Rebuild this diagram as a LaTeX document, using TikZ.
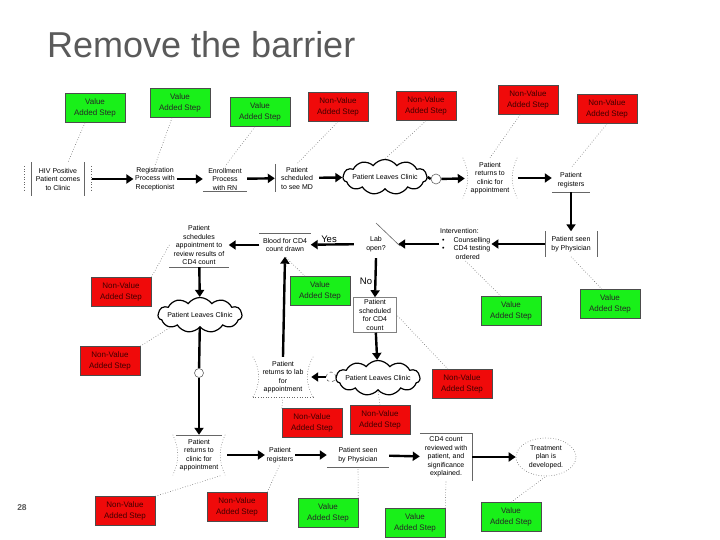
\documentclass[tikz,border=0pt]{standalone}
\usepackage{fontspec}
\setmainfont{Liberation Sans}
\usetikzlibrary{shapes.symbols,shapes.geometric,arrows.meta}
\definecolor{vgreen}{HTML}{19F019}
\definecolor{nvred}{HTML}{F00A0A}
\definecolor{titlegray}{HTML}{5A5A5A}
\begin{document}
\begin{tikzpicture}[x=1pt,y=-1pt,
  stepbox/.style={rectangle,minimum width=60pt,minimum height=29pt,inner sep=1pt,align=center,font=\fontsize{8}{10.5}\selectfont,draw=black!70,line width=0.5pt},
  vas/.style={stepbox,fill=vgreen,text=black!85},
  nvas/.style={stepbox,fill=nvred,text=black!75!red},
  flow/.style={align=center,font=\fontsize{7}{8.5}\selectfont,inner sep=1.5pt},
  arr/.style={line width=2.4pt,-{Triangle[length=7pt,width=9pt]}},
  plain/.style={line width=2.4pt},
  link/.style={dotted,line width=0.6pt,black!60},
  edge/.style={line width=0.6pt,black!60},
  cloudnode/.style={cloud,cloud puffs=11,cloud puff arc=110,cloud ignores aspect,draw,line width=1.2pt,fill=white,inner sep=0pt,minimum width=84pt,minimum height=35pt},
  cloudtext/.style={font=\fontsize{7}{8.5}\selectfont,inner sep=0pt},
  yn/.style={font=\fontsize{9.5}{11}\selectfont},
  smallc/.style={circle,minimum size=10pt,inner sep=0pt,draw=black!60,line width=0.6pt,fill=white}
]
\useasboundingbox (0,0) rectangle (720,540);

% title and page number
\node[anchor=west,font=\fontsize{36}{40}\selectfont,text=titlegray,inner sep=0pt] (title) at (47,45) {Remove the barrier};
\node[font=\bfseries\fontsize{8.5}{10}\selectfont,text=titlegray] (pnum) at (22,508) {28};

% top row of step boxes
\node[vas] (g1) at (95,108) {Value\\Added Step};
\node[vas] (g2) at (180,103) {Value\\Added Step};
\node[vas] (g3) at (260,112) {Value\\Added Step};
\node[nvas] (r1) at (338,107) {Non-Value\\Added Step};
\node[nvas] (r2) at (426,106) {Non-Value\\Added Step};
\node[nvas] (r3) at (528,100) {Non-Value\\Added Step};
\node[nvas] (r4) at (607,109) {Non-Value\\Added Step};

% second row of process
\node[flow,minimum width=53pt,minimum height=33pt] (hiv) at (58,179) {HIV Positive\\Patient comes\\to Clinic};
\draw[edge] (hiv.north west) -- (hiv.south west);
\draw[edge] (hiv.north east) -- (hiv.south east);
\draw[link] ([xshift=-7pt]hiv.north west) ++(0,4) -- ++(0,24);
\draw[link] ([xshift=7pt]hiv.north east) ++(0,4) -- ++(0,24);
\node[flow] (reg) at (155,179) {Registration\\Process with\\Receptionist};
\node[flow,minimum width=44pt] (enr) at (225,179) {Enrollment\\Process\\with RN};
\draw[edge] (enr.south west) -- (enr.south east);
\node[flow,minimum width=44pt,minimum height=28pt] (sched) at (297,178) {Patient\\scheduled\\to see MD};
\draw[edge] (sched.north west) -- (sched.south west);
\node[cloudnode] (cl1) at (385,177) {};
\node[cloudtext] (cl1t) at (cl1.center) {Patient Leaves Clinic};
\node[smallc] (c1) at (436,179) {};
\node[flow,minimum width=50pt,minimum height=40pt] (ret1) at (490,178) {Patient\\returns to\\clinic for\\appointment};
\draw[link] ([xshift=-2pt]ret1.north west) to[bend left=25] ([xshift=-2pt]ret1.south west);
\draw[link] ([xshift=2pt]ret1.north east) to[bend right=25] ([xshift=2pt]ret1.south east);
\node[flow,minimum width=38pt,minimum height=24pt] (preg) at (571,180) {Patient\\registers};
\draw[edge] (preg.south west) -- (preg.south east);

% third row
\node[flow,minimum width=52pt,minimum height=25pt] (phys) at (571,244) {Patient seen\\by Physician};
\draw[edge] (phys.north west) -- (phys.south west);
\draw[edge] (phys.north east) -- (phys.south east);
\node[anchor=west,align=left,font=\fontsize{7}{8.6}\selectfont,inner sep=1pt] (interv) at (439,244)
  {Intervention:\\\hspace*{2pt}\textbullet\hspace{9pt}Counselling\\\hspace*{2pt}\textbullet\hspace{9pt}CD4 testing\\\hspace*{15.5pt}ordered};
\node[flow,minimum width=44pt,minimum height=22pt] (lab) at (376,244) {Lab\\open?};
\draw[edge] (376,223) -- (400,246);
\node[flow,minimum width=51pt,minimum height=23pt] (blood) at (285,245) {Blood for CD4\\count drawn};
\draw[edge] (blood.north west) -- (blood.north east);
\node[flow,minimum width=59pt,minimum height=44pt] (psa) at (199,245) {Patient\\schedules\\appointment to\\review results of\\CD4 count};
\draw[edge] (psa.south west) -- (psa.south east);
\node[yn] (yes) at (329,239) {Yes};
\node[yn] (no) at (366,281) {No};
\node[vas] (g4) at (320,291) {Value\\Added Step};
\node[flow,draw=black!50,line width=0.5pt,minimum width=43pt,minimum height=35pt] (psc) at (375,315) {Patient\\scheduled\\for CD4\\count};
\node[vas] (g5) at (511,311) {Value\\Added Step};
\node[vas] (g6) at (610,304) {Value\\Added Step};

% left column
\node[nvas] (r5) at (121,292) {Non-Value\\Added Step};
\node[cloudnode] (cl2) at (200,315) {};
\node[cloudtext] (cl2t) at (cl2.center) {Patient Leaves Clinic};
\node[nvas] (r6) at (110,361) {Non-Value\\Added Step};
\node[smallc,minimum size=9pt] (c2) at (199,373) {};

% middle
\node[flow,minimum width=56pt,minimum height=40pt] (lab2) at (283,377) {Patient\\returns to lab\\for\\appointment};
\draw[link] ([xshift=-2pt]lab2.north west) to[bend left=30] ([xshift=-2pt]lab2.south west);
\draw[link] ([xshift=2pt]lab2.north east) to[bend right=30] ([xshift=2pt]lab2.south east);
\draw[link] ([xshift=-2pt]lab2.south west) -- ([xshift=2pt]lab2.south east);
\node[cloudnode] (cl3) at (378,378) {};
\node[cloudtext] (cl3t) at (cl3.center) {Patient Leaves Clinic};
\node[smallc,dashed] (c3) at (331,377) {};
\node[nvas] (r7) at (312,423) {Non-Value\\Added Step};
\node[nvas] (r8) at (380,420) {Non-Value\\Added Step};
\node[nvas] (r9) at (462,384) {Non-Value\\Added Step};

% bottom process row
\node[flow,minimum width=46pt,minimum height=40pt] (ret2) at (199,455) {Patient\\returns to\\clinic for\\appointment};
\draw[edge] (ret2.north west) -- (ret2.north east);
\draw[link] ([xshift=-3pt]ret2.north west) to[bend left=25] ([xshift=-3pt]ret2.south west);
\draw[link] ([xshift=3pt]ret2.north east) to[bend right=25] ([xshift=3pt]ret2.south east);
\node[flow] (preg2) at (280,455) {Patient\\registers};
\node[flow,minimum width=62pt,minimum height=25pt] (phys2) at (358,455) {Patient seen\\by Physician};
\draw[edge] (phys2.south west) -- (phys2.south east);
\node[flow,minimum width=52pt,minimum height=47pt] (cd4) at (446,457) {CD4 count\\reviewed with\\patient, and\\significance\\explained.};
\draw[edge] (cd4.north west) -- (cd4.north east) -- (cd4.south east);
\node[ellipse,flow,draw=black!60,dotted,line width=0.6pt,minimum width=60pt,minimum height=38pt,inner sep=0pt] (treat) at (546,457) {Treatment\\plan is\\developed.};

% bottom step boxes
\node[nvas] (r10) at (125,511) {Non-Value\\Added Step};
\node[nvas] (r11) at (237,507) {Non-Value\\Added Step};
\node[vas] (g7) at (328,513) {Value\\Added Step};
\node[vas] (g8) at (415,523) {Value\\Added Step};
\node[vas] (g9) at (511,517) {Value\\Added Step};

% arrows
\draw[arr] (hiv.east) ++(7,0) -- (reg.west);
\draw[arr] (reg) -- (enr);
\draw[arr] (enr) -- (sched);
\draw[arr] (sched) -- (cl1);
\draw[plain] (cl1.east) -- (c1.west);
\draw[arr] (c1) -- (ret1);
\draw[arr] (ret1.east) ++(3,0) -- (preg.west |- ret1.east);
\draw[arr] (preg.south) -- (phys.north);
\draw[arr] (phys) -- (interv);
\draw[arr] (interv.west) -- (lab.east);
\draw[arr] (lab) -- (blood);
\draw[arr] (blood) -- (psa);
\draw[arr] (psa) -- (cl2);
\draw[plain] (cl2) -- (c2);
\draw[arr] (c2) -- (ret2);
\draw[arr] (lab.south) ++(0,3) -- (psc.north);
\draw[arr] (psc) -- (cl3);
\draw[plain] (cl3) -- (c3);
\draw[arr] (c3) -- (lab2);
\draw[arr] (lab2.north) -- (blood.south);
\draw[arr] (ret2.east) ++(5,0) -- (preg2);
\draw[arr] (preg2) -- (phys2);
\draw[arr] (phys2) -- (cd4);
\draw[arr] (cd4) -- (treat);

% dotted links from steps
\draw[link] (g1.south) ++(-10,0) -- ([xshift=10pt]hiv.north);
\draw[link] (g2.south) ++(-8,0) -- (reg.north);
\draw[link] (g3.south) ++(-5,0) -- (enr.north);
\draw[link] (r1.south) -- (sched.north);
\draw[link] (r2.south) -- (cl1.north);
\draw[link] (r3.south) ++(-8,0) -- (ret1.north);
\draw[link] (r4.south) -- (preg.north);
\draw[link] (r5.north east) -- (psa.west);
\draw[link] (r6.north east) -- (cl2.south west);
\draw[link] (g4.north) ++(-15,0) -- (blood.south);
\draw[link] (g5.north) ++(-10,0) -- (interv.south);
\draw[link] (g6.north) ++(-8,0) -- (phys.south);
\draw[link] (r9.north) ++(-14,0) -- (psc.east);
\draw[link] (r7.north west) -- (lab2.south);
\draw[link] (r8.north) -- (cl3.south);
\draw[link] (r10.north east) -- (ret2.south east);
\draw[link] (r11.north east) -- (preg2.south);
\draw[link] (g7.north east) -- (phys2.south);
\draw[link] (g8.north east) -- (cd4.south);
\draw[link] (g9.north) -- (treat.south);
\end{tikzpicture}
\end{document}
